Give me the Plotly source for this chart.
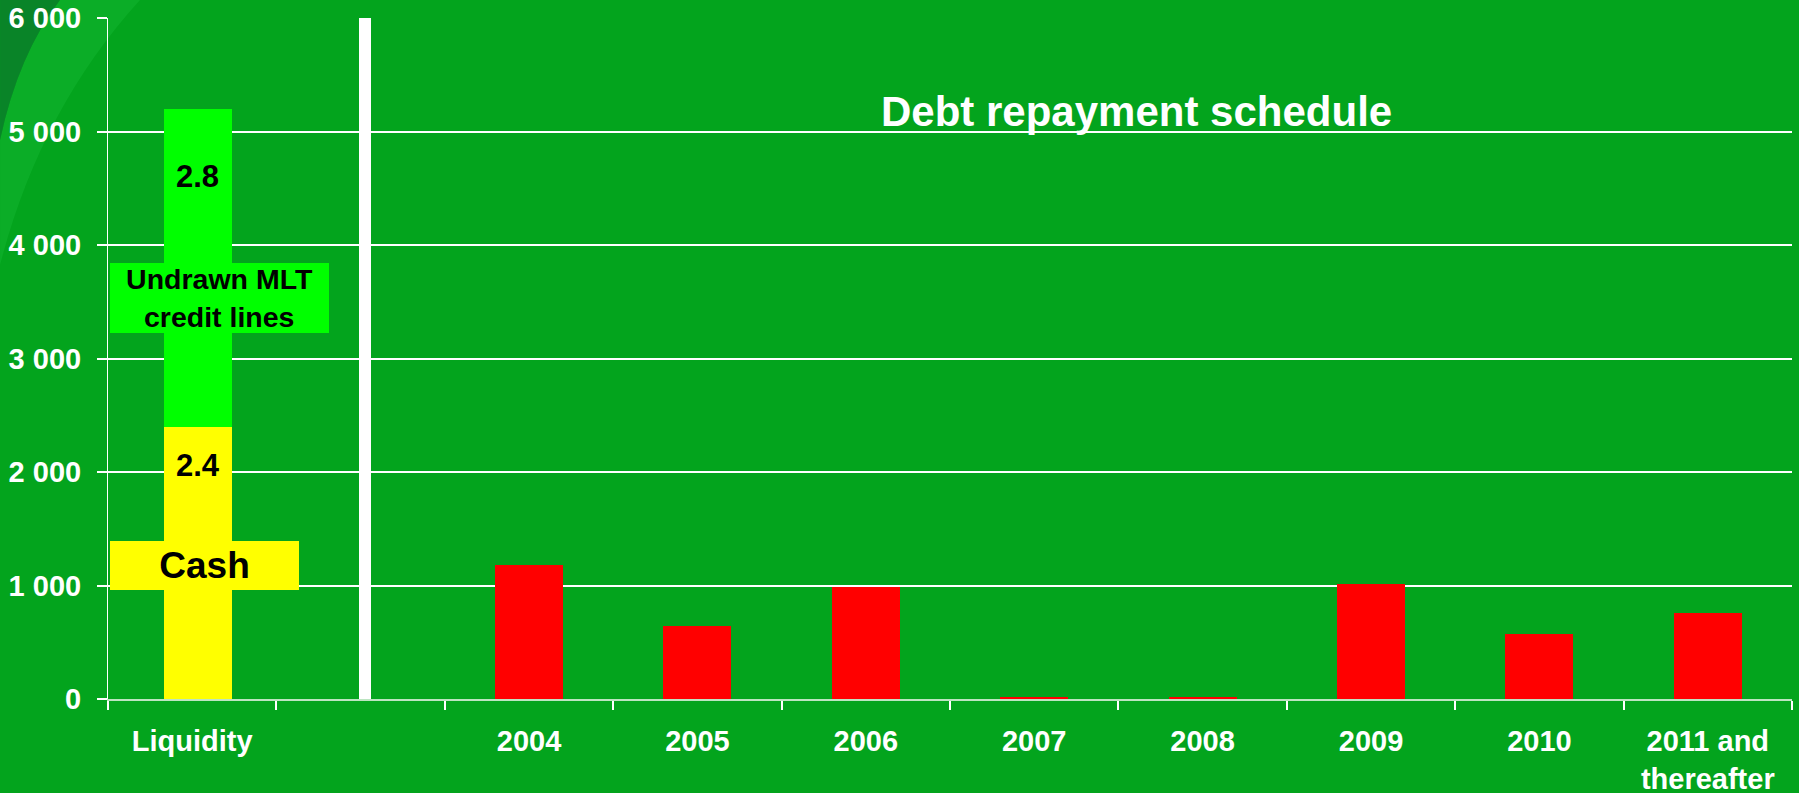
import plotly.graph_objects as go

# ---- data -------------------------------------------------------------
categories = ["Liquidity", "sep", "2004", "2005", "2006", "2007", "2008",
              "2009", "2010", "2011 and thereafter"]
tick_labels = ["Liquidity", "", "2004", "2005", "2006", "2007", "2008",
               "2009", "2010", "2011 and<br>thereafter"]

cash_bn = 2.4          # EUR bn
undrawn_bn = 2.8       # EUR bn, undrawn medium/long-term credit lines

repay_years = ["2004", "2005", "2006", "2007", "2008", "2009", "2010",
               "2011 and thereafter"]
repay_values = [1182, 644, 985, 15, 15, 1014, 573, 756]   # EUR m

y_max = 6000
y_ticks = [0, 1000, 2000, 3000, 4000, 5000, 6000]
y_tick_text = [f"{v:,}".replace(",", " ") for v in y_ticks]

# ---- style ------------------------------------------------------------
BG = "#03A41D"
FONT = "Liberation Sans, Arial, sans-serif"
W, H = 1799, 793
L, R, T, B = 108, 7, 18, 94

fig = go.Figure()

# liquidity stack
fig.add_trace(go.Bar(x=["Liquidity"], y=[cash_bn * 1000], width=0.404, offset=-0.17,
                     marker=dict(color="#FFFF00", line=dict(width=0)), hoverinfo="skip"))
fig.add_trace(go.Bar(x=["Liquidity"], y=[undrawn_bn * 1000], width=0.404, offset=-0.17,
                     marker=dict(color="#00FF00", line=dict(width=0)), hoverinfo="skip"))

# white divider between liquidity and repayment schedule
fig.add_trace(go.Bar(x=["sep"], y=[y_max], width=0.075, offset=-0.012,
                     marker=dict(color="#FFFFFF", line=dict(width=0)), hoverinfo="skip"))

# debt repayment bars
fig.add_trace(go.Bar(x=repay_years, y=repay_values, width=0.404,
                     marker=dict(color="#FF0000", line=dict(width=0)), hoverinfo="skip"))

liq_center = -0.17 + 0.202

annotations = [
    dict(x=liq_center, y=4600, xref="x", yref="y", text=f"<b>{undrawn_bn:.1f}</b>",
         showarrow=False, font=dict(size=31, color="black", family=FONT)),
    dict(x=liq_center, y=2060, xref="x", yref="y", text=f"<b>{cash_bn:.1f}</b>",
         showarrow=False, font=dict(size=31, color="black", family=FONT)),
    dict(x=0.161, y=3536, xref="x", yref="y", text="<b>Undrawn MLT<br>credit lines</b>",
         showarrow=False, bgcolor="#00FF00", width=219, height=70, borderpad=0,
         borderwidth=0, font=dict(size=28.5, color="black", family=FONT)),
    dict(x=0.071, y=1177, xref="x", yref="y", text="<b>Cash</b>",
         showarrow=False, bgcolor="#FFFF00", width=189, height=49, borderpad=0,
         borderwidth=0, font=dict(size=37, color="black", family=FONT)),
    dict(x=(1136 - L) / (W - L - R), y=5176, xref="paper", yref="y",
         text="<b>Debt repayment schedule</b>", showarrow=False,
         font=dict(size=42, color="white", family=FONT)),
]

# decorative swirl in the upper-left corner
def px(xp, yp):
    return (xp - L) / (W - L - R), (H - B - yp) / (H - T - B)

def path(points_cmds):
    out = []
    for cmd, pts in points_cmds:
        coords = " ".join(f"{a:.4f},{b:.4f}" for a, b in (px(*p) for p in pts))
        out.append(f"{cmd} {coords}")
    return " ".join(out) + " Z"

band = path([("M", [(60, 0)]), ("L", [(140, 0)]), ("Q", [(40, 110), (0, 265)]),
             ("L", [(0, 140)]), ("Q", [(18, 55), (60, 0)])])
dark = path([("M", [(0, 0)]), ("L", [(60, 0)]), ("Q", [(18, 55), (0, 140)])])

shapes = [
    dict(type="path", path=band, xref="paper", yref="paper", layer="below",
         fillcolor="#12B530", opacity=0.55, line=dict(width=0)),
    dict(type="path", path=dark, xref="paper", yref="paper", layer="below",
         fillcolor="#0C7A2C", opacity=0.75, line=dict(width=0)),
]

fig.update_layout(
    width=W, height=H,
    margin=dict(l=L, r=R, t=T, b=B, pad=0, autoexpand=False),
    paper_bgcolor=BG, plot_bgcolor="rgba(0,0,0,0)",
    barmode="stack", bargap=0.6, showlegend=False,
    font=dict(family=FONT, color="white"),
    annotations=annotations, shapes=shapes,
    xaxis=dict(
        type="category", categoryorder="array", categoryarray=categories,
        range=[-0.5, len(categories) - 0.5], automargin=False,
        tickmode="array", tickvals=categories,
        ticktext=[f"<b>{t}</b>" for t in tick_labels],
        tickson="boundaries", ticks="outside", ticklen=9, tickwidth=1.5,
        tickcolor="white", showgrid=False, zeroline=False,
        showline=True, linecolor="rgba(235,245,235,0.8)", linewidth=2,
        tickfont=dict(size=29, color="white", family=FONT),
        ticklabelstandoff=15,
    ),
    yaxis=dict(
        range=[0, y_max], tickmode="array", tickvals=y_ticks, automargin=False,
        ticktext=[f"<b>{t}</b>" for t in y_tick_text],
        ticks="outside", ticklen=10, tickwidth=1.5, tickcolor="white",
        showgrid=True, gridcolor="white", gridwidth=1.5,
        zeroline=False, showline=True, linecolor="white", linewidth=1,
        tickfont=dict(size=29, color="white", family=FONT),
        ticklabelstandoff=10,
    ),
)

fig.write_html("out.html")
